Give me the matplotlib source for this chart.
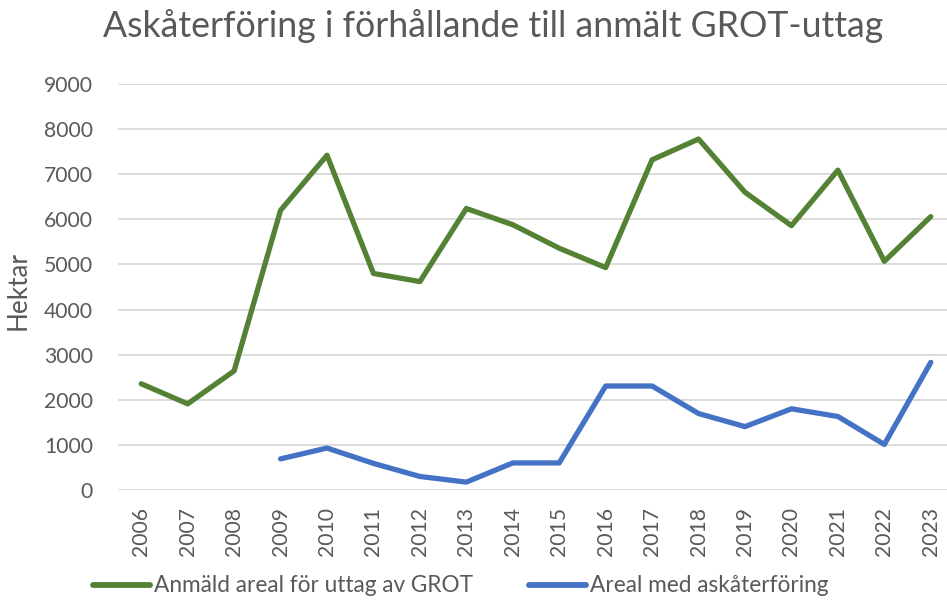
import numpy as np
import matplotlib
matplotlib.use("Agg")
import matplotlib.pyplot as plt
from matplotlib.lines import Line2D

plt.rcParams['font.family'] = ['Lato', 'DejaVu Sans']

years = list(range(2006, 2024))
grot = [2355, 1910, 2640, 6200, 7420, 4800, 4620, 6240, 5880, 5360, 4930,
        7320, 7780, 6600, 5860, 7090, 5070, 6060]
aska_years = list(range(2009, 2024))
aska = [690, 930, 590, 300, 175, 600, 600, 2305, 2305, 1695, 1405, 1800,
        1630, 1010, 2830]

grot_label = 'Anmäld areal för uttag av GROT'
aska_label = 'Areal med askåterföring'
title = 'Askåterföring i förhållande till anmält GROT-uttag'

text_col = '#595959'
green = '#548235'
blue = '#4472C4'

W, H = 947, 601
fig = plt.figure(figsize=(W / 100, H / 100), dpi=100)
renderer = fig.canvas.get_renderer()
px = 100 / 72  # pixels per point


def fit_size(s, target_px, base=20):
    # font size that gives the text the wanted width in pixels
    t = fig.text(0, 0, s, fontsize=base)
    w = t.get_window_extent(renderer).width
    t.remove()
    return base * target_px / w


tick_fs = fit_size('9000', 49)
title_fs = fit_size(title, 783)
leg_fs = fit_size(grot_label, 319)
ylab_fs = fit_size('Hektar', 79)

# axes spans slightly past the right edge, like the cropped original
ax = fig.add_axes([118 / W, 1 - 490 / H, 836 / W, 406 / H])

ax.plot(years, grot, color=green, lw=3.8, solid_joinstyle='round', solid_capstyle='round')
ax.plot(aska_years, aska, color=blue, lw=3.8, solid_joinstyle='round', solid_capstyle='round')

ax.set_xlim(2005.5, 2023.5)
ax.set_ylim(0, 9000)
ax.set_yticks(range(0, 9001, 1000))
ax.set_xticks(years)
ax.set_xticklabels([str(y) for y in years], rotation=90)
ax.grid(axis='y', color='#d9d9d9', lw=1.3)
ax.set_axisbelow(True)
for s in ax.spines.values():
    s.set_visible(False)
ax.tick_params(axis='both', length=0, colors=text_col, labelsize=tick_fs)
ax.tick_params(axis='y', pad=25 / px)
ax.tick_params(axis='x', pad=17 / px)

ax.set_ylabel('Hektar', color=text_col, fontsize=ylab_fs, va='center')
ax.yaxis.set_label_coords((18 - 118) / 836, (490 - 290) / 406)

fig.text(493.5 / W, 1 - 37 / H, title, ha='center', va='baseline',
         color=text_col, fontsize=title_fs)

fs_px = leg_fs * px
handles = [Line2D([], [], color=green, lw=4.2, solid_capstyle='round'),
           Line2D([], [], color=blue, lw=4.2, solid_capstyle='round')]
fig.legend(handles, [grot_label, aska_label], loc='center left',
           bbox_to_anchor=(93 / W, 1 - 586 / H), ncol=2, frameon=False,
           fontsize=leg_fs, labelcolor=text_col, borderaxespad=0, borderpad=0,
           handlelength=57 / fs_px, handletextpad=4 / fs_px, columnspacing=56 / fs_px)

fig.savefig('out.png', dpi=100)
